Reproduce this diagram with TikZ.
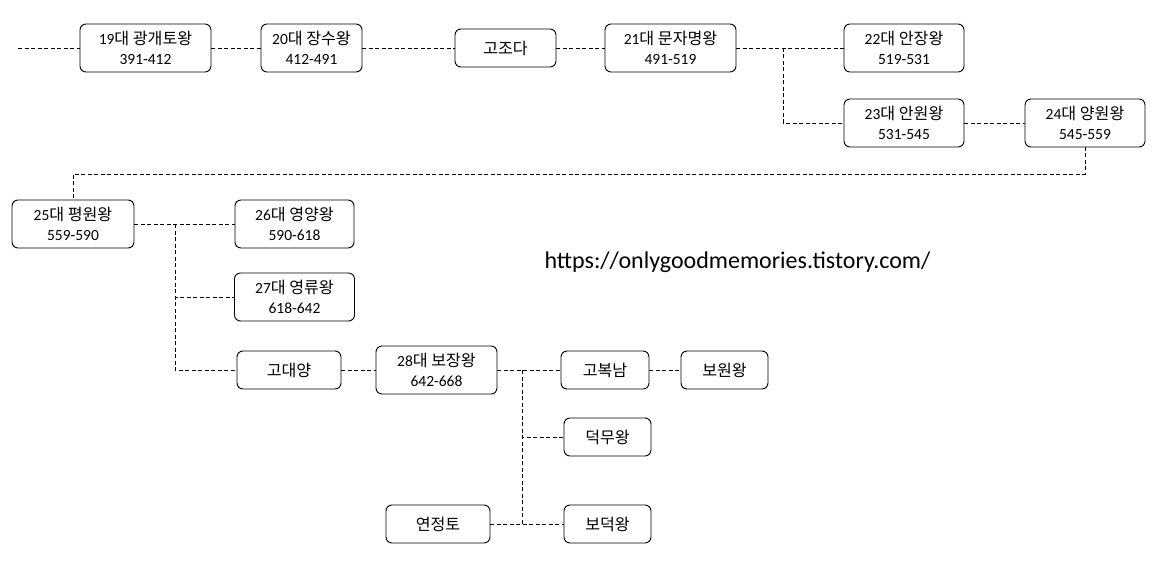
\documentclass[tikz,border=0pt]{standalone}
\usepackage{fontspec}
\setmainfont{Carlito}
\newfontfamily\krfont[Scale=1.04]{Noto Sans CJK KR}
\newcommand{\kor}[1]{{\krfont #1}}
\usetikzlibrary{positioning}
\tikzset{
  king/.style={draw,rounded corners=6pt,line width=0.9pt,align=center,outer sep=0pt,
    minimum height=48pt,inner sep=0pt,font=\fontsize{15.5}{20}\selectfont},
  heir/.style={king,minimum height=38pt},
  link/.style={dash pattern=on 4pt off 2.5pt,line width=0.8pt},
}

\begin{document}
\begin{tikzpicture}[x=1pt,y=-1pt]
  \useasboundingbox (0,0) rectangle (1165,567);
  % first row
  \node[king,minimum width=131pt] (k19) at (145.5,48) {19\kor{대 광개토왕}\\391-412};
  \node[king,minimum width=101pt,right=50pt of k19] (k20) {20\kor{대 장수왕}\\412-491};
  \node[heir,minimum width=101pt,right=93pt of k20] (gjd) {\kor{고조다}};
  \node[king,minimum width=131pt,right=49pt of gjd] (k21) {21\kor{대 문자명왕}\\491-519};
  \node[king,minimum width=120pt,right=108pt of k21] (k22) {22\kor{대 안장왕}\\519-531};
  \node[king,minimum width=120pt,below=27pt of k22] (k23) {23\kor{대 안원왕}\\531-545};
  \node[king,minimum width=120pt,right=61pt of k23] (k24) {24\kor{대 양원왕}\\545-559};
  % second row
  \node[king,minimum width=122pt] (k25) at (73,224) {25\kor{대 평원왕}\\559-590};
  \node[king,minimum width=119pt,right=101pt of k25] (k26) {26\kor{대 영양왕}\\590-618};
  \node[king,minimum width=120pt,below=25pt of k26] (k27) {27\kor{대 영류왕}\\618-642};
  \node[heir,minimum width=104pt] (gdy) at (289,370) {\kor{고대양}};
  \node[king,minimum width=121pt,right=35pt of gdy] (k28) {28\kor{대 보장왕}\\642-668};
  \node[heir,minimum width=88pt,right=64pt of k28] (gbn) {\kor{고복남}};
  \node[heir,minimum width=87pt,right=32pt of gbn] (bww) {\kor{보원왕}};
  \node[heir,minimum width=87pt] (dmw) at (607.5,437) {\kor{덕무왕}};
  \node[heir,minimum width=87pt] (bdw) at (607.5,524) {\kor{보덕왕}};
  \node[heir,minimum width=104pt] (yjt) at (438,524) {\kor{연정토}};
  \node[anchor=west,font=\fontsize{24}{28}\selectfont] (url) at (541,262) {https://onlygoodmemories.tistory.com/};
  % links
  \coordinate (lead) at (18,48);
  \draw[link] (lead) -- (k19) (k19) -- (k20) (k20) -- (gjd) (gjd) -- (k21) (k21) -- (k22);
  \path (k21.east) ++(47pt,0pt) coordinate (j21);
  \draw[link] (j21) |- (k23) (k23) -- (k24);
  \draw[link] (k24.south) -- ++(0pt,-27pt) -| (k25.north);
  \path (k25.east) ++(41pt,0pt) coordinate (j25);
  \draw[link] (k25) -- (k26) (j25) |- (k27) (j25) |- (gdy);
  \draw[link] (gdy) -- (k28) (k28) -- (gbn) (gbn) -- (bww);
  \path (k28.east) ++(25pt,0pt) coordinate (j28);
  \draw[link] (j28) |- (dmw) (j28) -- (j28 |- bdw) (yjt) -- (bdw);
\end{tikzpicture}
\end{document}
